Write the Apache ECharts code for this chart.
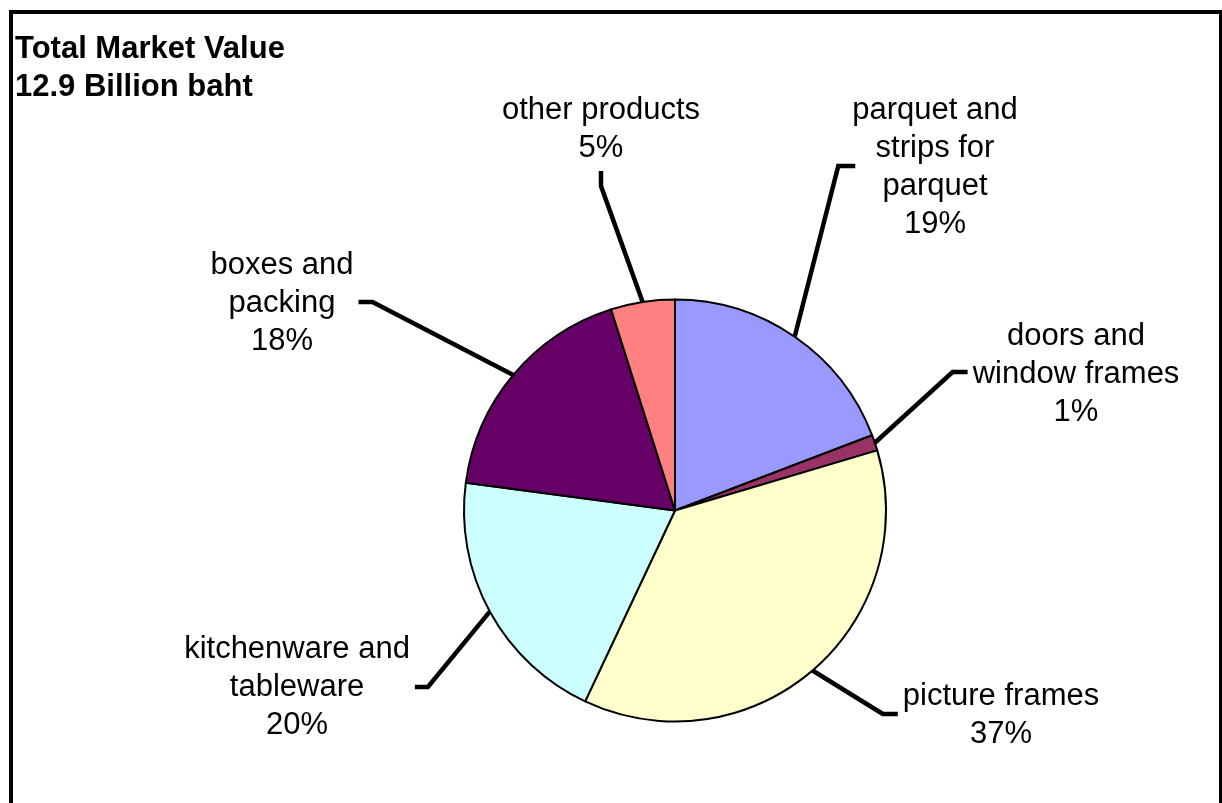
<!DOCTYPE html>
<html><head><meta charset="utf-8">
<script src="https://cdn.jsdelivr.net/npm/echarts@6/dist/echarts.min.js"></script>
<style>html,body{margin:0;padding:0;background:#fff;overflow:hidden}#c{width:1222px;height:803px}</style>
</head><body><div id="c"></div>
<script>
// ---- data ----
const categories = [
  'parquet and\nstrips for\nparquet',
  'doors and\nwindow frames',
  'picture frames',
  'kitchenware and\ntableware',
  'boxes and\npacking',
  'other products'
];
const values = [19.2, 1.2, 36.6, 20.1, 18.0, 4.9];
const colors = ['#9999FF', '#993366', '#FFFFCC', '#CCFFFF', '#660066', '#FF8080'];
const titleLines = ['Total Market Value', '12.9 Billion baht'];

// ---- label placement (layout only) ----
const labelPlacement = [
  { pos: [935, 167], side: 'left',   gap: -3, len2: 17, dy: -1 },
  { pos: [1076, 374], side: 'left',  gap: 5,  len2: 15, dy: -2 },
  { pos: [1001, 715], side: 'left',  gap: 5,  len2: 15, dy: -1 },
  { pos: [297, 687], side: 'right',  gap: 5,  len2: 13, dy: 0 },
  { pos: [282, 303], side: 'right',  gap: 5,  len2: 14, dy: -1 },
  { pos: [601, 129], side: 'bottom', gap: 4,  len2: 15, dy: 0 }
];

const FONT = '"Liberation Sans", Arial, sans-serif';
const chart = echarts.init(document.getElementById('c'), null, { renderer: 'canvas' });

chart.setOption({
  animation: false,
  backgroundColor: '#ffffff',
  title: {
    text: titleLines.join('\n'),
    left: 15, top: 30, padding: 0,
    textStyle: { fontSize: 31, fontWeight: 'bold', lineHeight: 38, fontFamily: FONT, color: '#000' }
  },
  graphic: {
    elements: [{
      type: 'rect', silent: true, z: 100,
      shape: { x: 11, y: 12, width: 1210, height: 900 },
      style: { fill: 'none', stroke: '#000', lineWidth: 4 }
    }]
  },
  series: [{
    type: 'pie',
    center: [675, 510.5],
    radius: 211,
    startAngle: 90,
    clockwise: true,
    avoidLabelOverlap: false,
    percentPrecision: 0,
    silent: true,
    emphasis: { disabled: true },
    itemStyle: { borderColor: '#000', borderWidth: 2 },
    label: {
      show: true,
      position: 'outside',
      formatter: '{b}\n{d}%',
      fontSize: 31,
      lineHeight: 38,
      fontFamily: FONT,
      color: '#000',
      align: 'center'
    },
    labelLine: { show: true, smooth: false, lineStyle: { color: '#000', width: 4.5 } },
    labelLayout: function (p) {
      const cfg = labelPlacement[p.dataIndex];
      const w = p.labelRect.width, h = p.labelRect.height;
      const x = cfg.pos[0], y = cfg.pos[1];
      const start = p.labelLinePoints[0].slice();
      let end, bend;
      if (cfg.side === 'left') {
        end = [x - w / 2 - cfg.gap, y + cfg.dy];
        bend = [end[0] - cfg.len2, end[1]];
      } else if (cfg.side === 'right') {
        end = [x + w / 2 + cfg.gap, y + cfg.dy];
        bend = [end[0] + cfg.len2, end[1]];
      } else {
        end = [x, y + h / 2 + cfg.gap];
        bend = [x, end[1] + cfg.len2];
      }
      return { x: x, y: y, align: 'center', verticalAlign: 'middle', labelLinePoints: [start, bend, end] };
    },
    data: categories.map(function (name, i) {
      return { name: name, value: values[i], itemStyle: { color: colors[i] } };
    })
  }]
});
</script>
</body></html>
